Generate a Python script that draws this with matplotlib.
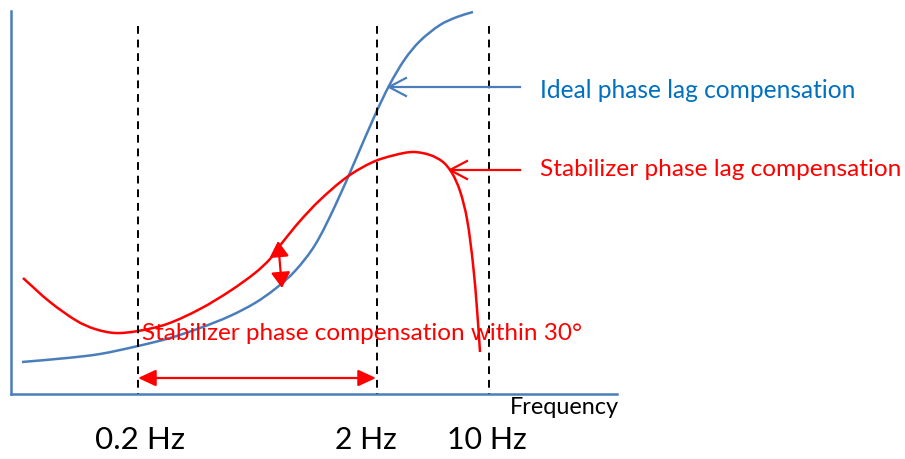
import matplotlib
matplotlib.use("Agg")
import matplotlib.pyplot as plt
import numpy as np
from matplotlib.patches import FancyArrowPatch, PathPatch
from matplotlib.path import Path

# ---- data (pixel-like schematic coordinates) ----
ideal_x = [22, 67, 100, 138, 170, 200, 230, 255, 275, 295, 315, 335, 355, 375, 390, 405, 420, 440, 457, 473]
ideal_y = [363, 359, 355, 347, 339, 329, 317, 304, 290, 272, 246, 207, 162, 116, 85, 60, 42, 26, 18, 13]

stab_x = [23, 50, 77, 95, 115, 138, 167, 200, 230, 255, 270, 282, 300, 320, 347, 373, 395, 413, 430, 443, 452, 460, 467, 473, 477, 480]
stab_y = [279, 303, 322, 330, 334, 332, 325, 310, 292, 274, 260, 244, 222, 201, 178, 163, 156, 153, 156, 163, 174, 192, 220, 265, 310, 353]

marker_freqs = ["0.2 Hz", "2 Hz", "10 Hz"]
marker_x = [138, 377, 489]
label_x = [140, 366, 487]

AXIS_BLUE = "#4a7ebb"
TEXT_BLUE = "#0070C0"
RED = "#FF0000"
FONT = ["Lato", "DejaVu Sans"]

fig = plt.figure(figsize=(9.05, 4.6), dpi=100)
ax = fig.add_axes([0, 0, 1, 1])
ax.set_xlim(0, 905)
ax.set_ylim(460, 0)
ax.axis("off")

# axes lines
ax.plot([11, 11], [12, 395], color=AXIS_BLUE, lw=1.8)
ax.plot([11, 617], [395, 395], color=AXIS_BLUE, lw=1.8)

# dashed frequency markers
for x in marker_x:
    ax.plot([x, x], [27, 395], color="black", lw=1.4, ls=(0, (4, 3)))

# smooth Bezier path through the read points (chord-length parametrised tangents)
def smooth_path(xs, ys):
    P = np.column_stack([xs, ys]).astype(float)
    n = len(P)
    d = np.linalg.norm(np.diff(P, axis=0), axis=1)
    t = np.concatenate([[0], np.cumsum(d)])
    M = np.zeros_like(P)
    M[0] = (P[1] - P[0]) / (t[1] - t[0])
    M[-1] = (P[-1] - P[-2]) / (t[-1] - t[-2])
    for i in range(1, n - 1):
        M[i] = (P[i + 1] - P[i - 1]) / (t[i + 1] - t[i - 1])
    verts = [tuple(P[0])]
    codes = [Path.MOVETO]
    for i in range(n - 1):
        h = t[i + 1] - t[i]
        verts += [tuple(P[i] + M[i] * h / 3), tuple(P[i + 1] - M[i + 1] * h / 3), tuple(P[i + 1])]
        codes += [Path.CURVE4] * 3
    return Path(verts, codes)

ax.add_patch(PathPatch(smooth_path(ideal_x, ideal_y), fill=False, ec=AXIS_BLUE, lw=1.8))
ax.add_patch(PathPatch(smooth_path(stab_x, stab_y), fill=False, ec=RED, lw=1.8))

# open-head pointer arrows
def pointer(x0, x1, y, color):
    ax.plot([x0, x1], [y, y], color=color, lw=1.6)
    ax.plot([x0 + 17, x0, x0 + 17], [y - 9, y, y + 9], color=color, lw=1.6)

pointer(389, 520, 88, AXIS_BLUE)
pointer(450, 520, 171, RED)

# filled double arrows
def dbl(p0, p1, hl, hw):
    a = FancyArrowPatch(p0, p1, arrowstyle=f"<|-|>,head_length={hl},head_width={hw}",
                        mutation_scale=10, color=RED, lw=1.6, shrinkA=0, shrinkB=0)
    ax.add_patch(a)

dbl((138, 379), (376, 379), 1.08, 0.5)
dbl((278, 242), (282, 289), 0.94, 0.58)

fig.canvas.draw()
r = fig.canvas.get_renderer()

def fit_text(x, y, s, w, color, ha="left", size=16):
    t = ax.text(x, y, s, color=color, ha=ha, va="center", fontsize=size, family=FONT)
    bb = t.get_window_extent(r)
    t.set_fontsize(size * w / bb.width)
    return t

fit_text(540, 91, "Ideal phase lag compensation", 317, TEXT_BLUE)
fit_text(540, 170, "Stabilizer phase lag compensation", 363, RED)
fit_text(142, 334, "Stabilizer phase compensation within 30°", 441, RED)
fit_text(510, 408, "Frequency", 110, "black")
widths = [90, 62, 80]
for s, x, w in zip(marker_freqs, label_x, widths):
    fit_text(x, 440, s, w, "black", ha="center", size=24)

fig.savefig("out.png", dpi=100)
